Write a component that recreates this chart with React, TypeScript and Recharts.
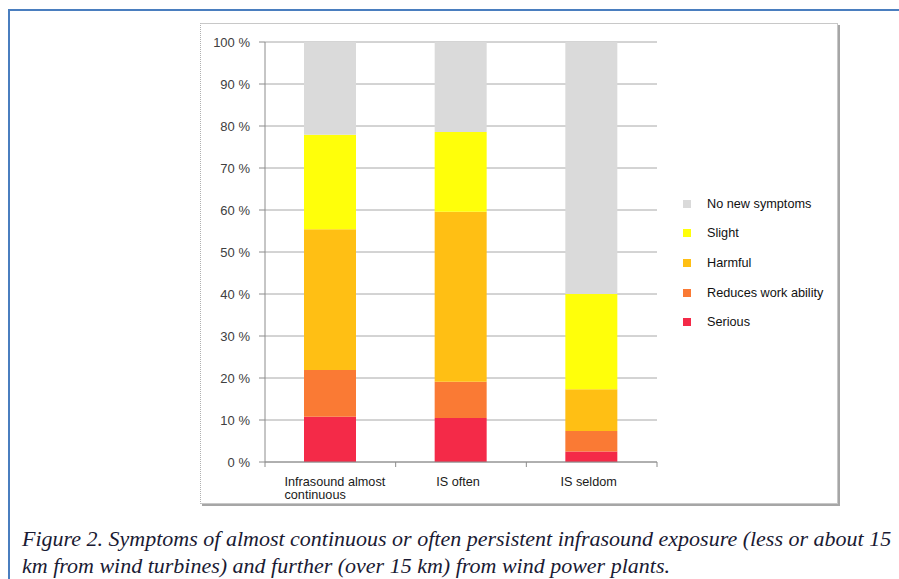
import React from 'react';
import { BarChart, Bar, XAxis, YAxis, CartesianGrid, Legend } from 'recharts';

const categories = ['Infrasound almost continuous', 'IS often', 'IS seldom'];
const tickLabelLines = [['Infrasound almost', 'continuous'], ['IS often'], ['IS seldom']];

const serious = [10.8, 10.5, 2.5];
const reducesWorkAbility = [11.1, 8.6, 4.9];
const harmful = [33.5, 40.5, 9.9];
const slight = [22.5, 19.0, 22.7];
const noNewSymptoms = [22.1, 21.4, 60.0];

const yTicks = [0, 10, 20, 30, 40, 50, 60, 70, 80, 90, 100];

const seriesDefs = [
  { key: 'serious', name: 'Serious', values: serious, color: '#f42a48' },
  { key: 'reduces', name: 'Reduces work ability', values: reducesWorkAbility, color: '#fa7a34' },
  { key: 'harmful', name: 'Harmful', values: harmful, color: '#ffbf14' },
  { key: 'slight', name: 'Slight', values: slight, color: '#ffff0a' },
  { key: 'none', name: 'No new symptoms', values: noNewSymptoms, color: '#dadada' },
];

const data = categories.map((c, i) => {
  const row: any = { category: c };
  seriesDefs.forEach((s) => {
    row[s.key] = s.values[i];
  });
  return row;
});

const XTick = (props: any) => {
  const { x, y, payload, index } = props;
  const idx = categories.indexOf(payload.value);
  const lines = tickLabelLines[idx >= 0 ? idx : 0];
  const half = payload.offset || 0;
  const longest = Math.max(...lines.map((l) => l.length));
  const multi = lines.length > 1;
  const startX = multi ? x - (longest * 5.4) / 2 : x - 3;
  return (
    <g>
      <line x1={x - half} x2={x - half} y1={y - 8} y2={y - 3} stroke="#8c8c8c" />
      {index === categories.length - 1 && (
        <line x1={x + half} x2={x + half} y1={y - 8} y2={y - 3} stroke="#8c8c8c" />
      )}
      <text
        x={startX}
        y={y + 16}
        textAnchor={multi ? 'start' : 'middle'}
        fontFamily="'Liberation Sans', Arial, sans-serif"
        fontSize={12.7}
        fill="#1a1a1a"
      >
        {lines.map((l, i) => (
          <tspan key={i} x={startX} dy={i === 0 ? 0 : 13}>
            {l}
          </tspan>
        ))}
      </text>
    </g>
  );
};

const LegendContent = () => {
  const ordered = [...seriesDefs].reverse();
  return (
    <div style={{ fontFamily: "'Liberation Sans', Arial, sans-serif", fontSize: 12.7, color: '#111' }}>
      {ordered.map((s) => (
        <div key={s.key} style={{ display: 'flex', alignItems: 'center', height: 29.6 }}>
          <span style={{ display: 'inline-block', width: 8, height: 8, background: s.color, marginRight: 16 }} />
          <span>{s.name}</span>
        </div>
      ))}
    </div>
  );
};

export default function App() {
  return (
    <div style={{ position: 'absolute', left: 0, top: 0, width: 899, height: 579, overflow: 'hidden', background: '#fff' }}>
      <div
        style={{
          position: 'absolute',
          left: 8,
          top: 9,
          width: 1200,
          height: 1200,
          border: '2.5px solid #4a7ebf',
          boxSizing: 'border-box',
        }}
      />
      <div
        style={{
          position: 'absolute',
          left: 200,
          top: 23,
          width: 636,
          height: 479,
          borderTop: '1px solid #c8c8c8',
          borderLeft: '1px dotted #b0b0b0',
          borderRight: '1px solid #c8c8c8',
          borderBottom: '1px solid #c8c8c8',
          boxShadow: '2px 2px 0 #a6a6a6',
          background: '#fff',
        }}
      />
      <div style={{ position: 'absolute', left: 0, top: 0 }}>
        <BarChart
          width={899}
          height={579}
          data={data}
          margin={{ top: 42, right: 242, bottom: 87, left: 205 }}
          barSize={52}
        >
          <CartesianGrid vertical={false} stroke="#a8a8a8" />
          <XAxis
            dataKey="category"
            height={30}
            axisLine={{ stroke: '#8c8c8c' }}
            tickLine={false}
            tick={<XTick />}
            interval={0}
          />
          <YAxis
            width={60}
            domain={[0, 100]}
            ticks={yTicks}
            allowDataOverflow
            tickFormatter={(v: number) => `${v} %`}
            axisLine={{ stroke: '#8c8c8c' }}
            tickLine={{ stroke: '#8c8c8c' }}
            tickSize={6}
            tickMargin={9}
            tick={{ fill: '#404040', fontSize: 13, fontFamily: "'Liberation Sans', Arial, sans-serif" }}
          />
          <Legend
            layout="horizontal"
            verticalAlign="middle"
            align="center"
            content={<LegendContent />}
            wrapperStyle={{ left: 683, top: 189, width: 190, height: 150 }}
          />
          {seriesDefs.map((s) => (
            <Bar key={s.key} dataKey={s.key} name={s.name} stackId="a" fill={s.color} isAnimationActive={false} />
          ))}
        </BarChart>
      </div>
      <div
        style={{
          position: 'absolute',
          left: 22,
          top: 525,
          whiteSpace: 'nowrap',
          fontFamily: "'Liberation Serif', 'Times New Roman', serif",
          fontStyle: 'italic',
          fontSize: 22,
          lineHeight: '27px',
          color: '#1a1a33',
        }}
      >
        <div>Figure 2. Symptoms of almost continuous or often persistent infrasound exposure (less or about 15</div>
        <div>km from wind turbines) and further (over 15 km) from wind power plants.</div>
      </div>
    </div>
  );
}
